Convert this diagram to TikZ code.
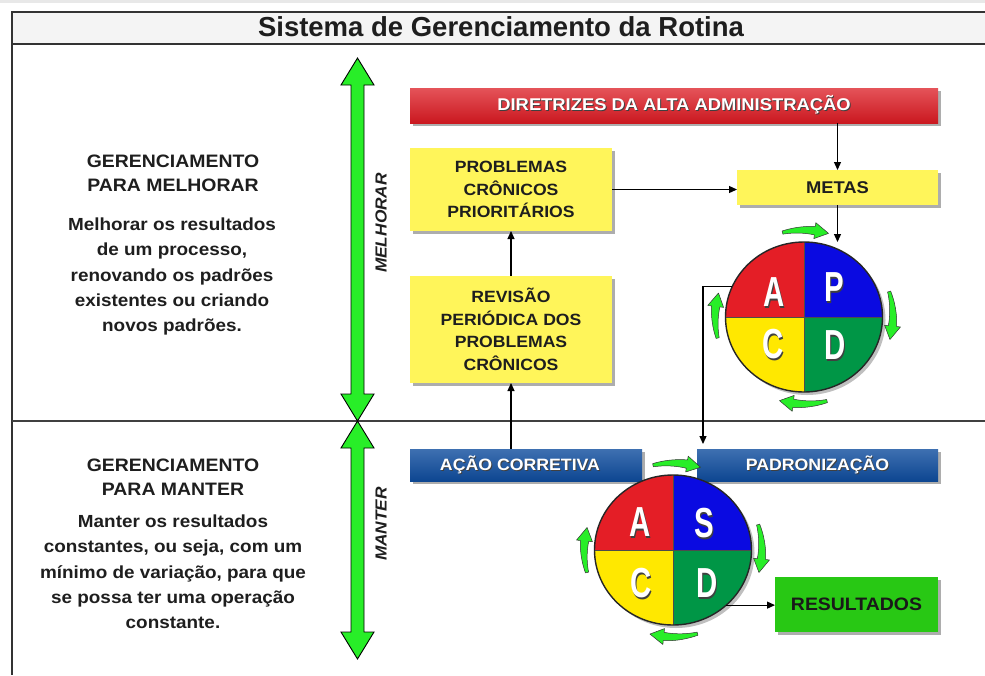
\documentclass[tikz,border=0pt]{standalone}
\usepackage{fontspec}
\setmainfont{Liberation Sans}[FakeStretch=1.08]
\newfontfamily\titlefont{Liberation Sans}
\newfontfamily\letterfont{Liberation Sans}[FakeStretch=0.7]
\usetikzlibrary{arrows.meta,shadows,calc,shapes.geometric}

\definecolor{barred}{RGB}{220,26,34}
\definecolor{boxyel}{RGB}{255,245,90}
\definecolor{barblue}{RGB}{14,76,158}
\definecolor{arrgreen}{RGB}{40,238,40}
\definecolor{resgreen}{RGB}{40,200,20}
\definecolor{qred}{RGB}{228,30,38}
\definecolor{qblue}{RGB}{10,10,225}
\definecolor{qyel}{RGB}{255,232,0}
\definecolor{qgreen}{RGB}{0,150,70}
\definecolor{titlebg}{RGB}{244,244,244}
\definecolor{txt}{RGB}{30,30,30}

\newcommand\shtext[1]{\makebox[0pt][l]{\hspace{1pt}\raisebox{-1pt}{\color{black!75}#1}}{\color{white}#1}}
\newcommand\shl[1]{\makebox[0pt][l]{\hspace{1.6pt}\raisebox{-1.6pt}{\color{black!75}#1}}{\color{white}#1}}

\newcommand\dblarrow[3]{%
  \filldraw[fill=arrgreen, draw=black, line width=0.9pt, line join=miter]
    (#1,#2) -- (#1+16.5,#2+27) -- (#1+6.5,#2+27) -- (#1+6.5,#3-27) -- (#1+16.5,#3-27)
    -- (#1,#3) -- (#1-16.5,#3-27) -- (#1-6.5,#3-27) -- (#1-6.5,#2+27) -- (#1-16.5,#2+27) -- cycle;}

% curved cycle arrow: center x, center y, start angle, tip angle (visual, clockwise)
\newcommand\carrow[4]{%
  \pgfmathsetmacro{\hb}{#4+9}%
  \pgfmathsetmacro{\span}{#3-\hb}%
  \filldraw[fill=arrgreen, draw=black!80, line width=0.5pt, line join=round]
    plot[domain=#3:\hb, samples=18] ({#1+(89+1.6+2.6*(#3-\x)/\span)*cos(\x)},{#2-(87+1.6+2.6*(#3-\x)/\span)*sin(\x)})
    -- ({#1+(89+8)*cos(\hb)},{#2-(87+8)*sin(\hb)})
    -- ({#1+89*cos(#4)},{#2-87*sin(#4)})
    -- ({#1+(89-8)*cos(\hb)},{#2-(87-8)*sin(\hb)})
    -- plot[domain=\hb:#3, samples=18] ({#1+(89-1.6-2.6*(#3-\x)/\span)*cos(\x)},{#2-(87-1.6-2.6*(#3-\x)/\span)*sin(\x)})
    -- cycle;}

% quadrants of a cycle node
\newcommand\quads[5]{% node, TL, TR, BL, BR colours
  \fill[black, opacity=0.25] ($(#1.center)+(3,3)$) ellipse [x radius=78.5, y radius=75];
  \fill[#3] (#1.center) -- ++(78.5,0) arc[start angle=0, end angle=-90, x radius=78.5, y radius=75] -- cycle;
  \fill[#2] (#1.center) -- ++(0,-75) arc[start angle=-90, end angle=-180, x radius=78.5, y radius=75] -- cycle;
  \fill[#4] (#1.center) -- ++(-78.5,0) arc[start angle=180, end angle=90, x radius=78.5, y radius=75] -- cycle;
  \fill[#5] (#1.center) -- ++(0,75) arc[start angle=90, end angle=0, x radius=78.5, y radius=75] -- cycle;
  \draw[black!70, line width=0.6pt] (#1.north) -- (#1.south) (#1.west) -- (#1.east);
  \draw[black!85, line width=1.4pt] (#1.center) ellipse [x radius=78.5, y radius=75];}

\begin{document}
\begin{tikzpicture}[x=1pt,y=-1pt,
  frame/.style={draw=black!80, line width=1.6pt},
  shad/.style={drop shadow={shadow xshift=2.5pt, shadow yshift=-2.5pt, opacity=0.4, fill=black!80}},
  boxbase/.style={inner sep=0pt, outer sep=0pt, align=center, shad},
  ybox/.style={boxbase, fill=boxyel, text=txt, font=\fontsize{16.3}{22.6}\selectfont\bfseries},
  rbar/.style={boxbase, top color=barred!75!white, bottom color=barred!92!black, font=\fontsize{17}{20}\selectfont\bfseries},
  bbar/.style={boxbase, top color=barblue!80!white, bottom color=barblue!92!black, font=\fontsize{16.4}{20}\selectfont\bfseries},
  gbox/.style={boxbase, fill=resgreen, text=black!90, font=\fontsize{18}{20}\selectfont\bfseries},
  conn/.style={draw=black, line width=1.2pt, -{Triangle[length=8pt,width=7pt]}},
  cyc/.style={ellipse, minimum width=157pt, minimum height=150pt, inner sep=0pt, outer sep=0pt},
  letter/.style={inner sep=0pt, font=\letterfont\fontsize{42}{42}\selectfont\bfseries},
  head/.style={align=center, text=txt, font=\fontsize{18}{23.5}\selectfont\bfseries},
  body/.style={align=center, text=txt, font=\fontsize{17.5}{25.3}\selectfont\bfseries},
  vtext/.style={rotate=90, text=txt, inner sep=0pt, font=\fontsize{16}{16}\selectfont\bfseries\itshape},
  titletext/.style={text=txt, inner sep=0pt, font=\titlefont\fontsize{27.5}{30}\selectfont\bfseries}
]
\useasboundingbox (0,0) rectangle (985,675);
\fill[white] (0,0) rectangle (985,675);
\fill[black!9] (0,0) rectangle (985,3);
\fill[titlebg] (12,12) rectangle (985,44);
\draw[frame] (985,12) -- (12,12) -- (12,675);
\draw[frame] (12,44) -- (985,44);
\draw[draw=black!75, line width=1.4pt] (12,421) -- (985,421);
\node[titletext] (title) at (501,27) {Sistema de Gerenciamento da Rotina};

% left texts
\node[head] (h1) at (173,173.5) {GERENCIAMENTO\\PARA MELHORAR};
\node[body] (b1) at (172,276.5) {Melhorar os resultados\\de um processo,\\renovando os padrões\\existentes ou criando\\novos padrões.};
\node[head] (h2) at (173,477) {GERENCIAMENTO\\PARA MANTER};
\node[body] (b2) at (173,572) {Manter os resultados\\constantes, ou seja, com um\\mínimo de variação, para que\\se possa ter uma operação\\constante.};

% green double arrows
\dblarrow{357.5}{58}{421}
\dblarrow{357.5}{421}{659}
\node[vtext] (melh) at (381,223) {MELHORAR};
\node[vtext] (mant) at (381,524) {MANTER};

% boxes
\node[rbar, minimum width=528pt, minimum height=35pt] (diret) at (674,105.5) {\shtext{DIRETRIZES DA ALTA ADMINISTRAÇÃO}};
\node[ybox, minimum width=202pt, minimum height=83pt] (prob) at (511,189.5) {PROBLEMAS\\CRÔNICOS\\PRIORITÁRIOS};
\node[ybox, minimum width=201pt, minimum height=35pt, font=\fontsize{17}{20}\selectfont\bfseries] (metas) at (837.5,187.5) {METAS};
\node[ybox, minimum width=202pt, minimum height=107pt] (rev) at (511,329.5) {REVISÃO\\PERIÓDICA DOS\\PROBLEMAS\\CRÔNICOS};
\node[bbar, minimum width=232pt, minimum height=32pt] (acao) at (526,465) {\shtext{AÇÃO CORRETIVA}\hspace{12pt}};
\node[bbar, minimum width=241pt, minimum height=32pt] (padr) at (817.5,465) {\shtext{PADRONIZAÇÃO}};
\node[gbox, minimum width=163pt, minimum height=55pt] (res) at (856.5,604.5) {RESULTADOS};

% PDCA cycle
\node[cyc] (pdca) at (804,317) {};
\quads{pdca}{qred}{qblue}{qyel}{qgreen}
\node[letter] (pA) at ($(pdca.center)+(-30,-24)$) {\shl{A}};
\node[letter] (pP) at ($(pdca.center)+(30,-29)$) {\shl{P}};
\node[letter] (pC) at ($(pdca.center)+(-31,28)$) {\shl{C}};
\node[letter] (pD) at ($(pdca.center)+(31,29)$) {\shl{D}};
\carrow{804}{317}{104}{74}
\carrow{804}{317}{17}{-15}
\carrow{804}{317}{-75}{-106}
\carrow{804}{317}{194}{164}

% SDCA cycle
\node[cyc] (sdca) at (673,550) {};
\quads{sdca}{qred}{qblue}{qyel}{qgreen}
\node[letter] (sA) at ($(sdca.center)+(-33,-27)$) {\shl{A}};
\node[letter] (sS) at ($(sdca.center)+(31,-26)$) {\shl{S}};
\node[letter] (sC) at ($(sdca.center)+(-32,34)$) {\shl{C}};
\node[letter] (sD) at ($(sdca.center)+(34,34)$) {\shl{D}};
\carrow{673}{550}{103}{72}
\carrow{673}{550}{17}{-15}
\carrow{673}{550}{-74}{-105}
\carrow{673}{550}{195}{165}

% connectors
\draw[conn] (metas.north |- diret.south) -- (metas.north);
\draw[conn] (prob.east) -- (prob.east -| metas.west);
\draw[conn] (metas.south) -- (metas.south |- pdca.north);
\draw[conn] (rev.north) -- (prob.south);
\draw[conn] (rev.south |- acao.north) -- (rev.south);
\draw[conn] (pdca.157) -| ($(padr.north west)+(6,-5)$);
\draw[conn] (sdca.-46) -- (sdca.-46 -| res.west);
\end{tikzpicture}
\end{document}
